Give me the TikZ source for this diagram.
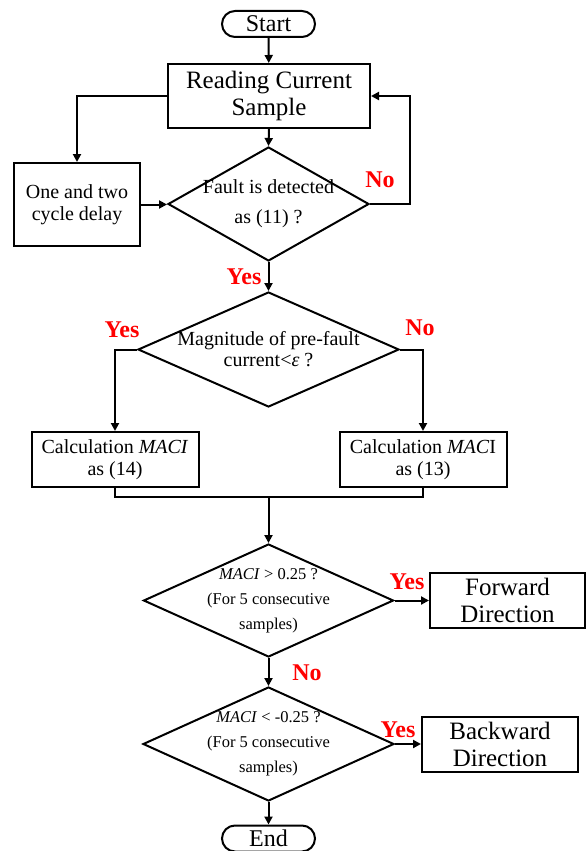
\documentclass[tikz,border=0pt]{standalone}
\usepackage{fontspec}
\setmainfont{Liberation Serif}
\usetikzlibrary{arrows.meta,shapes.geometric}
\begin{document}
\begin{tikzpicture}[x=1pt,y=-1pt,line width=2pt,
  box/.style={draw,rectangle,inner sep=0pt,align=center},
  term/.style={draw,rectangle,rounded corners=13pt,inner sep=0pt,minimum width=93pt,minimum height=26pt,font=\fontsize{24}{26}\selectfont},
  dia/.style={draw,diamond,inner sep=0pt},
  dtext/.style={inner sep=0pt,align=center},
  big/.style={font=\fontsize{25}{27}\selectfont},
  lbl/.style={inner sep=0pt,text=red,font=\fontsize{24}{26}\selectfont\bfseries},
  arr/.style={-{Triangle[length=8pt,width=8pt]}}]
\useasboundingbox (0,0) rectangle (586,851);
% nodes
\node[term] (start) at (268.5,24) {Start};
\node[box,big,minimum width=202pt,minimum height=64pt] (read) at (269,96) {Reading Current\\Sample};
\node[box,font=\fontsize{20}{22}\selectfont,minimum width=125.5pt,minimum height=83pt] (delay) at (77,204.5) {One and two\\cycle delay};
\node[dia,minimum width=201pt,minimum height=114pt] (d1) at (268.5,204) {};
\node[dtext,font=\fontsize{20}{30}\selectfont] at (d1) {Fault is detected\\as (11) ?};
\node[dia,minimum width=261pt,minimum height=115pt] (d2) at (268.5,349.5) {};
\node[dtext,font=\fontsize{20}{21}\selectfont] at (d2) {Magnitude of pre-fault\\current<\textit{ε} ?};
\node[box,font=\fontsize{20}{21.5}\selectfont,minimum width=167pt,minimum height=55pt] (cl) at (115,459.5) {Calculation \textit{MACI}\\as (14)};
\node[box,font=\fontsize{20}{21.5}\selectfont,minimum width=167pt,minimum height=55pt] (cr) at (423,459.5) {Calculation \textit{MAC}I\\as (13)};
\coordinate (m) at (268.5,497);
\node[dia,minimum width=250pt,minimum height=113pt] (d3) at (268.5,600.5) {};
\node[dtext,font=\fontsize{16.5}{25}\selectfont] at (d3) {\textit{MACI} > 0.25 ?\\(For 5 consecutive\\samples)};
\node[box,big,minimum width=155pt,minimum height=55pt] (fwd) at (507.5,600.5) {Forward\\Direction};
\node[dia,minimum width=251pt,minimum height=114pt] (d4) at (268.5,744) {};
\node[dtext,font=\fontsize{16.5}{25}\selectfont] at (d4) {\textit{MACI} < -0.25 ?\\(For 5 consecutive\\samples)};
\node[box,big,minimum width=156pt,minimum height=55pt] (bwd) at (500,744.5) {Backward\\Direction};
\node[term] (end) at (268.5,838.5) {End};
% connectors
\draw[arr] (start) -- (read);
\draw[arr] (read.west) -| (delay.north);
\draw[arr] (delay.east) -- (delay.east -| d1.west);
\draw[arr] (read.south) -- (d1.north);
\draw[arr] (d1.east) -- ++(40,0) |- (read.east);
\draw[arr] (d1.south) -- (d2.north);
\draw[arr] (d2.west) -| (cl.north);
\draw[arr] (d2.east) -| (cr.north);
\draw (cl.south) |- (m) -| (cr.south);
\draw[arr] (m) -- (d3.north);
\draw[arr] (d3.east) -- (d3.east -| fwd.west);
\draw[arr] (d3.south) -- (d4.north);
\draw[arr] (d4.east) -- (d4.east -| bwd.west);
\draw[arr] (d4.south) -- (end.north);
% labels
\node[lbl] at (380,180) {No};
\node[lbl] at (244,277) {Yes};
\node[lbl] at (122,330) {Yes};
\node[lbl] at (420,328) {No};
\node[lbl] at (407,582) {Yes};
\node[lbl] at (307,673) {No};
\node[lbl] at (398,730) {Yes};
\end{tikzpicture}
\end{document}
